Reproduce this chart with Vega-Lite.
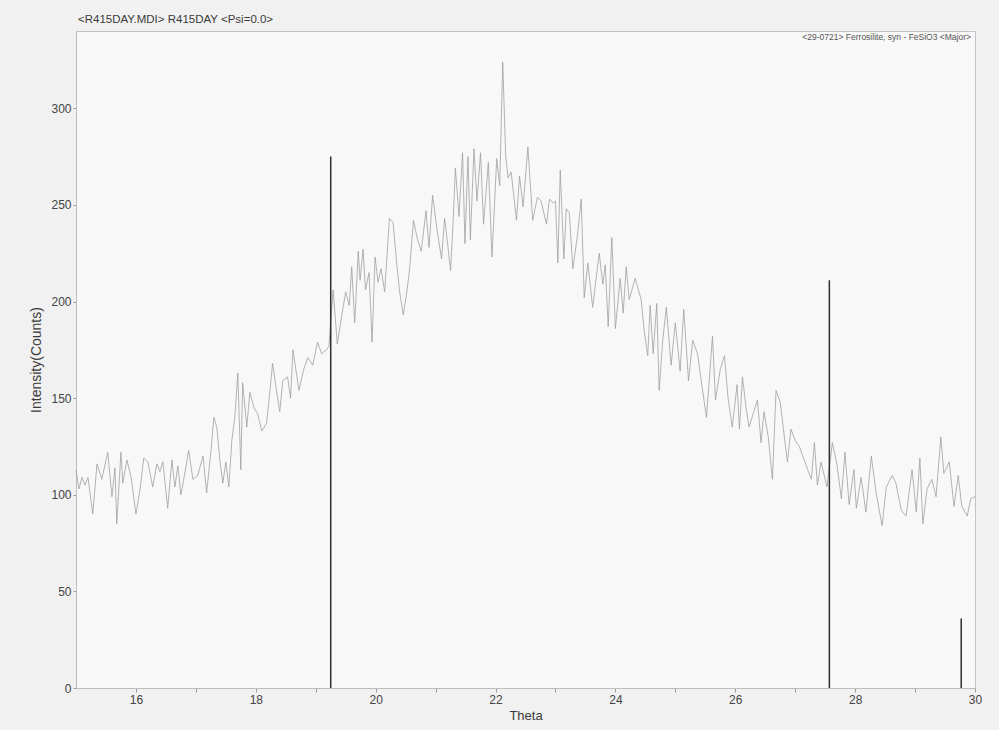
{
  "$schema": "https://vega.github.io/schema/vega-lite/v6.json",
  "width": 899,
  "height": 657,
  "autosize": "none",
  "padding": {"left": 76, "top": 31, "right": 24, "bottom": 42},
  "background": "#f1f1f1",
  "config": {
    "view": {"fill": "#f8f8f8", "stroke": "#c4c4c4", "strokeWidth": 1},
    "font": "Liberation Sans"
  },
  "title": {
    "text": "<R415DAY.MDI> R415DAY <Psi=0.0>",
    "anchor": "start",
    "frame": "group",
    "offset": 6,
    "dx": 2,
    "fontSize": 11.5,
    "fontWeight": "normal",
    "font": "Liberation Sans",
    "color": "#3a3a3a"
  },
  "datasets": {
    "scan": [
      {"theta": 15.00, "counts": 113}, {"theta": 15.05, "counts": 103}, {"theta": 15.10, "counts": 109}, {"theta": 15.15, "counts": 105},
      {"theta": 15.20, "counts": 109}, {"theta": 15.28, "counts": 90}, {"theta": 15.35, "counts": 116}, {"theta": 15.43, "counts": 108},
      {"theta": 15.53, "counts": 122}, {"theta": 15.60, "counts": 99}, {"theta": 15.65, "counts": 114}, {"theta": 15.68, "counts": 85},
      {"theta": 15.75, "counts": 122}, {"theta": 15.78, "counts": 106}, {"theta": 15.85, "counts": 118}, {"theta": 15.92, "counts": 109},
      {"theta": 16.00, "counts": 90}, {"theta": 16.07, "counts": 103}, {"theta": 16.13, "counts": 119}, {"theta": 16.20, "counts": 117},
      {"theta": 16.28, "counts": 104}, {"theta": 16.35, "counts": 116}, {"theta": 16.40, "counts": 112}, {"theta": 16.45, "counts": 117},
      {"theta": 16.53, "counts": 93}, {"theta": 16.60, "counts": 118}, {"theta": 16.65, "counts": 104}, {"theta": 16.70, "counts": 115},
      {"theta": 16.75, "counts": 100}, {"theta": 16.82, "counts": 112}, {"theta": 16.88, "counts": 123}, {"theta": 16.95, "counts": 108},
      {"theta": 17.03, "counts": 110}, {"theta": 17.12, "counts": 120}, {"theta": 17.18, "counts": 101}, {"theta": 17.25, "counts": 122},
      {"theta": 17.30, "counts": 140}, {"theta": 17.35, "counts": 135}, {"theta": 17.40, "counts": 118}, {"theta": 17.45, "counts": 106},
      {"theta": 17.50, "counts": 117}, {"theta": 17.55, "counts": 104}, {"theta": 17.60, "counts": 128}, {"theta": 17.65, "counts": 140},
      {"theta": 17.70, "counts": 163}, {"theta": 17.75, "counts": 113}, {"theta": 17.78, "counts": 158}, {"theta": 17.85, "counts": 135},
      {"theta": 17.90, "counts": 153}, {"theta": 17.97, "counts": 145}, {"theta": 18.03, "counts": 142}, {"theta": 18.10, "counts": 133},
      {"theta": 18.18, "counts": 137}, {"theta": 18.23, "counts": 152}, {"theta": 18.28, "counts": 168}, {"theta": 18.34, "counts": 155},
      {"theta": 18.40, "counts": 143}, {"theta": 18.45, "counts": 159}, {"theta": 18.53, "counts": 161}, {"theta": 18.58, "counts": 150},
      {"theta": 18.62, "counts": 175}, {"theta": 18.72, "counts": 154}, {"theta": 18.80, "counts": 165}, {"theta": 18.87, "counts": 171},
      {"theta": 18.95, "counts": 167}, {"theta": 19.03, "counts": 179}, {"theta": 19.10, "counts": 173}, {"theta": 19.18, "counts": 175},
      {"theta": 19.22, "counts": 177}, {"theta": 19.29, "counts": 206}, {"theta": 19.36, "counts": 178}, {"theta": 19.43, "counts": 192},
      {"theta": 19.50, "counts": 205}, {"theta": 19.56, "counts": 198}, {"theta": 19.60, "counts": 218}, {"theta": 19.65, "counts": 189},
      {"theta": 19.71, "counts": 226}, {"theta": 19.74, "counts": 211}, {"theta": 19.79, "counts": 227}, {"theta": 19.83, "counts": 206},
      {"theta": 19.89, "counts": 215}, {"theta": 19.94, "counts": 179}, {"theta": 19.99, "counts": 223}, {"theta": 20.04, "counts": 210},
      {"theta": 20.09, "counts": 217}, {"theta": 20.15, "counts": 205}, {"theta": 20.23, "counts": 243}, {"theta": 20.29, "counts": 241},
      {"theta": 20.35, "counts": 220}, {"theta": 20.40, "counts": 205}, {"theta": 20.46, "counts": 193}, {"theta": 20.52, "counts": 205},
      {"theta": 20.57, "counts": 218}, {"theta": 20.63, "counts": 242}, {"theta": 20.70, "counts": 232}, {"theta": 20.76, "counts": 226},
      {"theta": 20.84, "counts": 247}, {"theta": 20.89, "counts": 228}, {"theta": 20.95, "counts": 255}, {"theta": 21.02, "counts": 238},
      {"theta": 21.10, "counts": 222}, {"theta": 21.15, "counts": 243}, {"theta": 21.20, "counts": 230}, {"theta": 21.25, "counts": 216},
      {"theta": 21.29, "counts": 240}, {"theta": 21.33, "counts": 269}, {"theta": 21.39, "counts": 244}, {"theta": 21.45, "counts": 277},
      {"theta": 21.49, "counts": 230}, {"theta": 21.54, "counts": 275}, {"theta": 21.58, "counts": 232}, {"theta": 21.64, "counts": 279},
      {"theta": 21.69, "counts": 252}, {"theta": 21.75, "counts": 277}, {"theta": 21.80, "counts": 240}, {"theta": 21.88, "counts": 272},
      {"theta": 21.94, "counts": 223}, {"theta": 22.02, "counts": 274}, {"theta": 22.07, "counts": 260}, {"theta": 22.12, "counts": 324},
      {"theta": 22.17, "counts": 275}, {"theta": 22.21, "counts": 264}, {"theta": 22.26, "counts": 267}, {"theta": 22.35, "counts": 242},
      {"theta": 22.40, "counts": 265}, {"theta": 22.46, "counts": 249}, {"theta": 22.54, "counts": 280}, {"theta": 22.62, "counts": 242},
      {"theta": 22.70, "counts": 254}, {"theta": 22.76, "counts": 252}, {"theta": 22.85, "counts": 240}, {"theta": 22.90, "counts": 253},
      {"theta": 22.96, "counts": 251}, {"theta": 23.00, "counts": 252}, {"theta": 23.04, "counts": 220}, {"theta": 23.08, "counts": 268},
      {"theta": 23.14, "counts": 222}, {"theta": 23.18, "counts": 248}, {"theta": 23.23, "counts": 246}, {"theta": 23.29, "counts": 217},
      {"theta": 23.37, "counts": 235}, {"theta": 23.43, "counts": 253}, {"theta": 23.48, "counts": 202}, {"theta": 23.54, "counts": 220},
      {"theta": 23.62, "counts": 197}, {"theta": 23.73, "counts": 225}, {"theta": 23.79, "counts": 209}, {"theta": 23.83, "counts": 219},
      {"theta": 23.88, "counts": 187}, {"theta": 23.94, "counts": 233}, {"theta": 24.00, "counts": 186}, {"theta": 24.08, "counts": 212},
      {"theta": 24.13, "counts": 194}, {"theta": 24.18, "counts": 218}, {"theta": 24.23, "counts": 201}, {"theta": 24.33, "counts": 212},
      {"theta": 24.43, "counts": 201}, {"theta": 24.48, "counts": 185}, {"theta": 24.54, "counts": 172}, {"theta": 24.58, "counts": 198},
      {"theta": 24.63, "counts": 173}, {"theta": 24.69, "counts": 199}, {"theta": 24.73, "counts": 154}, {"theta": 24.79, "counts": 180},
      {"theta": 24.85, "counts": 197}, {"theta": 24.93, "counts": 167}, {"theta": 25.00, "counts": 189}, {"theta": 25.08, "counts": 164},
      {"theta": 25.14, "counts": 196}, {"theta": 25.22, "counts": 159}, {"theta": 25.29, "counts": 180}, {"theta": 25.37, "counts": 173},
      {"theta": 25.45, "counts": 155}, {"theta": 25.52, "counts": 140}, {"theta": 25.62, "counts": 182}, {"theta": 25.67, "counts": 149},
      {"theta": 25.75, "counts": 165}, {"theta": 25.82, "counts": 172}, {"theta": 25.88, "counts": 150}, {"theta": 25.95, "counts": 135},
      {"theta": 26.03, "counts": 157}, {"theta": 26.07, "counts": 134}, {"theta": 26.12, "counts": 161}, {"theta": 26.18, "counts": 145},
      {"theta": 26.23, "counts": 135}, {"theta": 26.30, "counts": 142}, {"theta": 26.37, "counts": 149}, {"theta": 26.43, "counts": 127},
      {"theta": 26.48, "counts": 143}, {"theta": 26.55, "counts": 130}, {"theta": 26.62, "counts": 108}, {"theta": 26.68, "counts": 154},
      {"theta": 26.75, "counts": 148}, {"theta": 26.80, "counts": 135}, {"theta": 26.87, "counts": 117}, {"theta": 26.93, "counts": 134},
      {"theta": 27.00, "counts": 128}, {"theta": 27.07, "counts": 125}, {"theta": 27.15, "counts": 118}, {"theta": 27.22, "counts": 112},
      {"theta": 27.27, "counts": 108}, {"theta": 27.32, "counts": 127}, {"theta": 27.37, "counts": 105}, {"theta": 27.43, "counts": 117},
      {"theta": 27.53, "counts": 104}, {"theta": 27.62, "counts": 127}, {"theta": 27.70, "counts": 115}, {"theta": 27.77, "counts": 98},
      {"theta": 27.83, "counts": 122}, {"theta": 27.90, "counts": 95}, {"theta": 27.98, "counts": 113}, {"theta": 28.02, "counts": 93},
      {"theta": 28.10, "counts": 109}, {"theta": 28.18, "counts": 91}, {"theta": 28.27, "counts": 120}, {"theta": 28.35, "counts": 101},
      {"theta": 28.45, "counts": 84}, {"theta": 28.52, "counts": 104}, {"theta": 28.62, "counts": 110}, {"theta": 28.68, "counts": 106},
      {"theta": 28.77, "counts": 92}, {"theta": 28.85, "counts": 89}, {"theta": 28.95, "counts": 113}, {"theta": 29.02, "counts": 91},
      {"theta": 29.08, "counts": 119}, {"theta": 29.13, "counts": 85}, {"theta": 29.20, "counts": 103}, {"theta": 29.28, "counts": 108},
      {"theta": 29.35, "counts": 99}, {"theta": 29.43, "counts": 130}, {"theta": 29.48, "counts": 111}, {"theta": 29.57, "counts": 117},
      {"theta": 29.65, "counts": 94}, {"theta": 29.72, "counts": 110}, {"theta": 29.78, "counts": 94}, {"theta": 29.87, "counts": 89},
      {"theta": 29.93, "counts": 98}, {"theta": 30.00, "counts": 99}
    ],
    "sticks": [
      {"theta": 19.25, "counts": 275, "base": 0},
      {"theta": 27.57, "counts": 211, "base": 0},
      {"theta": 29.77, "counts": 36, "base": 0}
    ],
    "ref": [
      {"label": "<29-0721> Ferrosilite, syn - FeSiO3 <Major>", "theta": 30, "counts": 340}
    ]
  },
  "layer": [
    {
      "data": {"name": "scan"},
      "mark": {"type": "line", "color": "#a0a0a0", "strokeWidth": 0.8},
      "encoding": {
        "x": {
          "field": "theta", "type": "quantitative",
          "scale": {"domain": [15, 30], "nice": false, "zero": false},
          "axis": {
            "values": [16, 17, 18, 19, 20, 21, 22, 23, 24, 25, 26, 27, 28, 29, 30],
            "format": "d",
            "labelExpr": "datum.value % 2 == 0 ? datum.label : ''",
            "labelFlush": false,
            "grid": false, "tickSize": 4, "tickColor": "#9a9a9a", "domainColor": "#bdbdbd",
            "labelColor": "#444444", "labelFontSize": 12, "labelPadding": 2,
            "title": "Theta", "titleFontSize": 13, "titleFontWeight": "normal", "titleColor": "#3a3a3a", "titlePadding": 4
          }
        },
        "y": {
          "field": "counts", "type": "quantitative",
          "scale": {"domain": [0, 340], "nice": false},
          "axis": {
            "values": [0, 50, 100, 150, 200, 250, 300],
            "grid": false, "tickSize": 3, "tickColor": "#9a9a9a", "domainColor": "#bdbdbd",
            "labelColor": "#444444", "labelFontSize": 12, "labelPadding": 2,
            "title": "Intensity(Counts)", "titleFontSize": 14, "titleFontWeight": "normal", "titleColor": "#3a3a3a", "titlePadding": 7
          }
        }
      }
    },
    {
      "data": {"name": "sticks"},
      "mark": {"type": "rule", "color": "#2e2e2e", "strokeWidth": 1.5},
      "encoding": {
        "x": {"field": "theta", "type": "quantitative"},
        "y": {"field": "counts", "type": "quantitative"},
        "y2": {"field": "base"}
      }
    },
    {
      "data": {"name": "ref"},
      "mark": {"type": "text", "align": "right", "baseline": "top", "fontSize": 8.5, "color": "#555555", "dx": -4, "dy": 2},
      "encoding": {
        "x": {"field": "theta", "type": "quantitative"},
        "y": {"field": "counts", "type": "quantitative"},
        "text": {"field": "label", "type": "nominal"}
      }
    }
  ]
}
